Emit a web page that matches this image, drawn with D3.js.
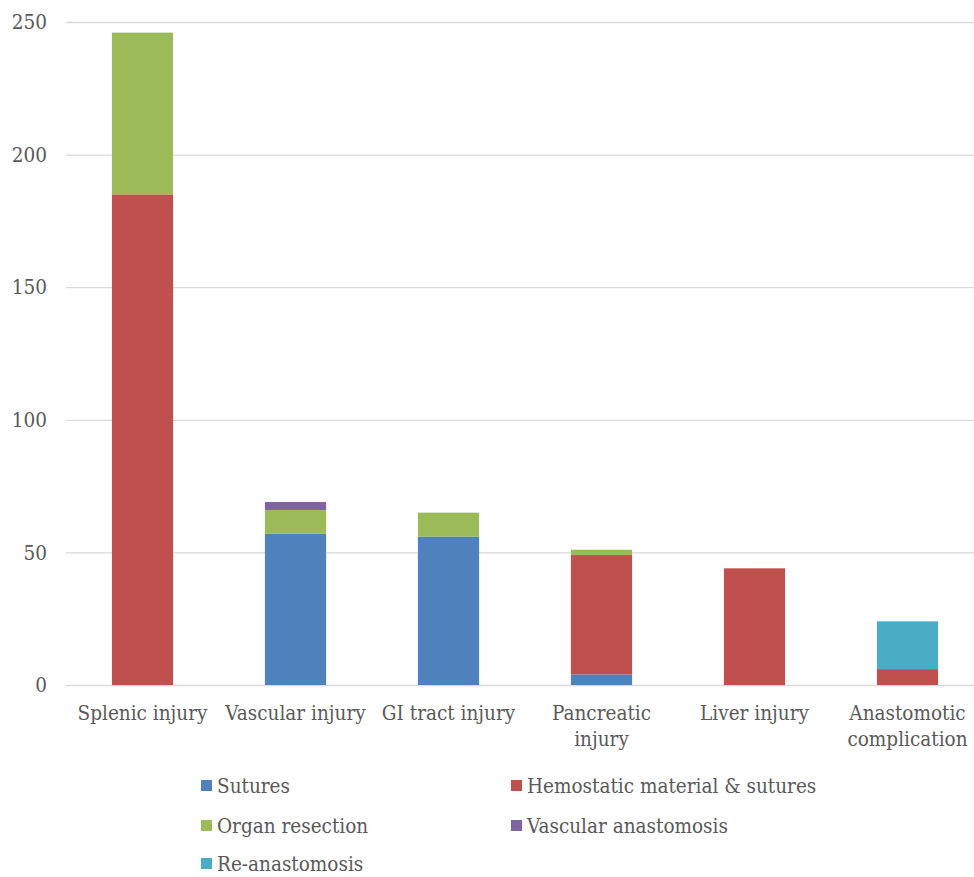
<!DOCTYPE html>
<html><head><meta charset="utf-8">
<script src="https://cdn.jsdelivr.net/npm/d3@7"></script>
<style>body{margin:0;background:#fff}svg{display:block}text{font-family:"DejaVu Serif Condensed","DejaVu Serif",serif;fill:#595959}</style>
</head><body><svg id="c" width="974" height="877"></svg>
<script>
const categories = [["Splenic injury"],["Vascular injury"],["GI tract injury"],["Pancreatic","injury"],["Liver injury"],["Anastomotic","complication"]];
const seriesNames = ["Sutures","Hemostatic material & sutures","Organ resection","Vascular anastomosis","Re-anastomosis"];
const sutures = [0,57,56,4,0,0];
const hemostatic = [185,0,0,45,44,6];
const organResection = [61,9,9,2,0,0];
const vascularAnastomosis = [0,3,0,0,0,0];
const reAnastomosis = [0,0,0,0,0,18];
const colors = ["#4F81BD","#C0504D","#9BBB59","#8064A2","#4BACC6"];
const yTicks = [0,50,100,150,200,250];

(function(){
const svg = d3.select("#c");
const mL = 66, mR = 984, mT = 22, mB = 685;
const keys = categories.map((c,i)=>i);
const x = d3.scaleBand().domain(keys).range([mL,mR]).paddingInner(0.6).paddingOuter(0.3);
const y = d3.scaleLinear().domain([0,250]).range([mB,mT]);
const rows = keys.map(i=>({i, s0:sutures[i], s1:hemostatic[i], s2:organResection[i], s3:vascularAnastomosis[i], s4:reAnastomosis[i]}));
const stack = d3.stack().keys(["s0","s1","s2","s3","s4"])(rows);

svg.append("g").selectAll("line").data(yTicks).join("line")
  .attr("x1",mL).attr("x2",mR).attr("y1",d=>y(d)+0.5).attr("y2",d=>y(d)+0.5)
  .attr("stroke","#d9d9d9").attr("stroke-width",1.3);
svg.append("g").selectAll("text").data(yTicks).join("text")
  .attr("x",47).attr("y",d=>y(d)).attr("dy","0.35em").attr("text-anchor","end")
  .attr("font-size",20.5).text(d=>d);

stack.forEach((layer,k)=>{
  svg.append("g").attr("fill",colors[k]).selectAll("rect").data(layer.filter(d=>d[1]>d[0])).join("rect")
    .attr("x",d=>x(d.data.i)).attr("width",x.bandwidth())
    .attr("y",d=>y(d[1])).attr("height",d=>y(d[0])-y(d[1]));
});

const cat = svg.append("g").selectAll("text").data(categories).join("text")
  .attr("text-anchor","middle").attr("font-size",20.5)
  .attr("transform",(d,i)=>`translate(${x(i)+x.bandwidth()/2},720)`);
cat.selectAll("tspan").data(d=>d).join("tspan").attr("x",0).attr("dy",(d,j)=>j?26:0).text(d=>d);

const legPos = [[201,786],[511,786],[201,826],[511,826],[201,864]];
const lg = svg.append("g").selectAll("g").data(seriesNames).join("g")
  .attr("transform",(d,i)=>`translate(${legPos[i][0]},${legPos[i][1]})`);
lg.append("rect").attr("x",0).attr("y",-6).attr("width",11).attr("height",11).attr("fill",(d,i)=>colors[i]);
lg.append("text").attr("x",16).attr("dy","0.35em").attr("font-size",20.5).text(d=>d);
})();
</script></body></html>
